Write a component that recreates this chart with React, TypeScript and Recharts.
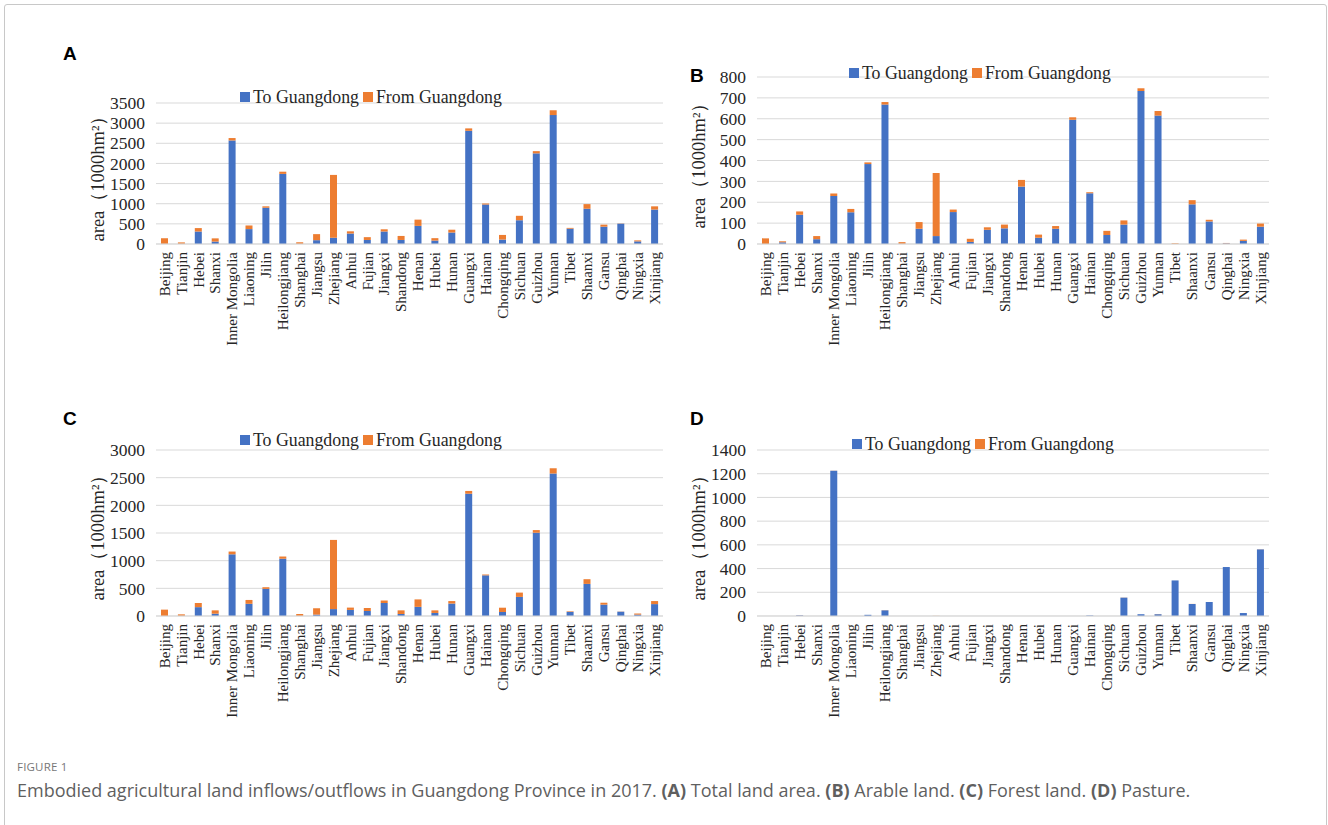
import { Bar, BarChart, CartesianGrid, Legend, XAxis, YAxis } from 'recharts'

const PROVINCES = [
  'Beijing', 'Tianjin', 'Hebei', 'Shanxi', 'Inner Mongolia', 'Liaoning', 'Jilin', 'Heilongjiang',
  'Shanghai', 'Jiangsu', 'Zhejiang', 'Anhui', 'Fujian', 'Jiangxi', 'Shandong', 'Henan', 'Hubei',
  'Hunan', 'Guangxi', 'Hainan', 'Chongqing', 'Sichuan', 'Guizhou', 'Yunnan', 'Tibet', 'Shaanxi',
  'Gansu', 'Qinghai', 'Ningxia', 'Xinjiang',
]

// (A) total land area
const TOTAL_TO = [3, 5, 310, 60, 2570, 370, 900, 1740, 3, 95, 155, 260, 100, 310, 100, 450, 85, 285, 2810, 980, 110, 590, 2250, 3200, 380, 875, 430, 505, 65, 855]
const TOTAL_FROM = [140, 35, 85, 80, 60, 90, 35, 55, 40, 150, 1560, 55, 70, 55, 100, 155, 60, 70, 60, 25, 115, 110, 55, 120, 20, 115, 50, 5, 25, 80]
// (B) arable land
const ARABLE_TO = [0, 8, 140, 23, 230, 152, 383, 668, 1, 73, 38, 153, 10, 68, 75, 275, 30, 73, 595, 243, 43, 93, 733, 615, 0, 190, 108, 3, 15, 83]
const ARABLE_FROM = [27, 5, 16, 15, 12, 16, 8, 12, 8, 32, 302, 12, 15, 12, 18, 32, 15, 13, 12, 5, 20, 20, 13, 22, 3, 20, 8, 2, 6, 15]
// (C) forest land
const FOREST_TO = [0, 3, 160, 42, 1115, 220, 490, 1035, 2, 25, 125, 110, 90, 235, 36, 165, 55, 225, 2210, 735, 72, 345, 1505, 2575, 75, 580, 205, 78, 25, 215]
const FOREST_FROM = [115, 27, 75, 60, 50, 70, 30, 40, 34, 115, 1250, 42, 55, 45, 66, 135, 47, 45, 50, 15, 78, 78, 48, 95, 10, 85, 35, 3, 20, 55]
// (D) pasture
const PASTURE_TO = [0, 0, 5, 0, 1225, 0, 10, 48, 0, 0, 0, 0, 0, 0, 0, 0, 0, 0, 0, 4, 0, 155, 15, 15, 300, 101, 118, 413, 25, 562]
const PASTURE_FROM = [0, 0, 1, 0, 1, 0, 0, 1, 0, 0, 1, 0, 0, 0, 0, 0, 0, 0, 0, 0, 0, 1, 0, 1, 0, 1, 0, 0, 0, 1]

const TICKS_A = [0, 500, 1000, 1500, 2000, 2500, 3000, 3500]
const TICKS_B = [0, 100, 200, 300, 400, 500, 600, 700, 800]
const TICKS_C = [0, 500, 1000, 1500, 2000, 2500, 3000]
const TICKS_D = [0, 200, 400, 600, 800, 1000, 1200, 1400]

const BLUE = '#4472C4'
const ORANGE = '#ED7D31'
const GRID = '#d9d9d9'
const INK = '#262626'
const SERIF = '"Liberation Serif", "Times New Roman", serif'
const Y_AXIS_W = 56
const X_AXIS_H = 110

function ProvinceTick({ x, y, payload }: any) {
  return (
    <text
      x={x}
      y={y}
      dy="0.35em"
      textAnchor="end"
      transform={`rotate(-90, ${x}, ${y})`}
      fontFamily={SERIF}
      fontSize={15}
      fill={INK}
    >
      {payload.value}
    </text>
  )
}

function LegendBox() {
  const swatch = (color: string) => (
    <span style={{ display: 'inline-block', width: 10, height: 10, background: color, marginRight: 3 }} />
  )
  return (
    <div style={{ display: 'flex', alignItems: 'center', fontFamily: SERIF, fontSize: 17.8, color: INK, whiteSpace: 'nowrap', lineHeight: '20px' }}>
      {swatch(BLUE)}
      <span style={{ marginRight: 4 }}>To Guangdong</span>
      {swatch(ORANGE)}
      <span>From Guangdong</span>
    </div>
  )
}

type PanelProps = {
  letter: string
  to: number[]
  from: number[]
  ticks: number[]
  left: number
  top: number
  width: number
  height: number
  plotLeft: number
  plotRight: number
  plotTop: number
  plotBottom: number
  titleX: number
  legendX: number
  legendY: number
  letterX: number
  letterY: number
}

function Panel(p: PanelProps) {
  const data = PROVINCES.map((name, i) => ({ name, to: p.to[i], from: p.from[i] }))
  const margin = {
    top: p.plotTop - p.top,
    left: p.plotLeft - p.left - Y_AXIS_W,
    right: p.left + p.width - p.plotRight,
    bottom: p.top + p.height - p.plotBottom - X_AXIS_H,
  }
  const max = p.ticks[p.ticks.length - 1]
  return (
    <>
      <div style={{ position: 'absolute', left: p.letterX, top: p.letterY - 12, fontFamily: '"Liberation Sans", Arial, sans-serif', fontWeight: 700, fontSize: 19, lineHeight: '24px', color: '#000' }}>
        {p.letter}
      </div>
      <div
        style={{
          position: 'absolute',
          left: p.titleX,
          top: (p.plotTop + p.plotBottom) / 2,
          transform: 'translate(-50%, -50%) rotate(-90deg)',
          fontFamily: SERIF,
          fontSize: 18.5,
          color: INK,
          whiteSpace: 'nowrap',
        }}
      >
        area（1000hm²）
      </div>
      <div style={{ position: 'absolute', left: p.left, top: p.top }}>
        <BarChart width={p.width} height={p.height} data={data} margin={margin} barSize={7}>
          <CartesianGrid stroke={GRID} vertical={false} />
          <XAxis
            dataKey="name"
            interval={0}
            tickSize={0}
            tickMargin={8}
            height={X_AXIS_H}
            axisLine={{ stroke: GRID }}
            tick={<ProvinceTick />}
          />
          <YAxis
            type="number"
            domain={[0, max]}
            ticks={p.ticks}
            interval={0}
            width={Y_AXIS_W}
            tickSize={0}
            tickMargin={11}
            axisLine={false}
            tick={{ fontFamily: SERIF, fontSize: 17.5, fill: INK }}
          />
          <Legend
            layout="horizontal"
            verticalAlign="middle"
            align="center"
            content={<LegendBox />}
            wrapperStyle={{ left: p.legendX - p.left, top: p.legendY - p.top - 10, width: 'auto' }}
          />
          <Bar dataKey="to" name="To Guangdong" stackId="s" fill={BLUE} isAnimationActive={false} />
          <Bar dataKey="from" name="From Guangdong" stackId="s" fill={ORANGE} isAnimationActive={false} />
        </BarChart>
      </div>
    </>
  )
}

export default function App() {
  return (
    <div style={{ position: 'absolute', left: 0, top: 0, width: 1328, height: 825, background: '#fff', overflow: 'hidden' }}>
      <div style={{ position: 'absolute', left: 4, top: 4, width: 1321, height: 840, border: '1px solid #c8c8c8', borderRadius: 3 }} />
      <Panel
        letter="A" to={TOTAL_TO} from={TOTAL_FROM} ticks={TICKS_A}
        left={0} top={0} width={680} height={370}
        plotLeft={156} plotRight={663} plotTop={103} plotBottom={244}
        titleX={97} legendX={240} legendY={97} letterX={63} letterY={54}
      />
      <Panel
        letter="B" to={ARABLE_TO} from={ARABLE_FROM} ticks={TICKS_B}
        left={640} top={0} width={650} height={370}
        plotLeft={757} plotRight={1269} plotTop={77} plotBottom={244}
        titleX={698} legendX={849} legendY={73} letterX={690} letterY={76}
      />
      <Panel
        letter="C" to={FOREST_TO} from={FOREST_FROM} ticks={TICKS_C}
        left={0} top={360} width={680} height={380}
        plotLeft={156} plotRight={663} plotTop={450} plotBottom={616}
        titleX={97} legendX={240} legendY={440} letterX={63} letterY={419}
      />
      <Panel
        letter="D" to={PASTURE_TO} from={PASTURE_FROM} ticks={TICKS_D}
        left={640} top={360} width={650} height={380}
        plotLeft={757} plotRight={1269} plotTop={450} plotBottom={616}
        titleX={698} legendX={852} legendY={444} letterX={690} letterY={419}
      />
      <div style={{ position: 'absolute', left: 17, top: 759, fontFamily: '"Open Sans", sans-serif', fontSize: 11.5, color: '#777', letterSpacing: 0.2 }}>
        FIGURE 1
      </div>
      <div style={{ position: 'absolute', left: 17, top: 778, fontFamily: '"Open Sans", sans-serif', fontSize: 18, color: '#5f5f5f', whiteSpace: 'nowrap' }}>
        Embodied agricultural land inflows/outflows in Guangdong Province in 2017. <b>(A)</b> Total land area. <b>(B)</b> Arable land. <b>(C)</b> Forest land. <b>(D)</b> Pasture.
      </div>
    </div>
  )
}
